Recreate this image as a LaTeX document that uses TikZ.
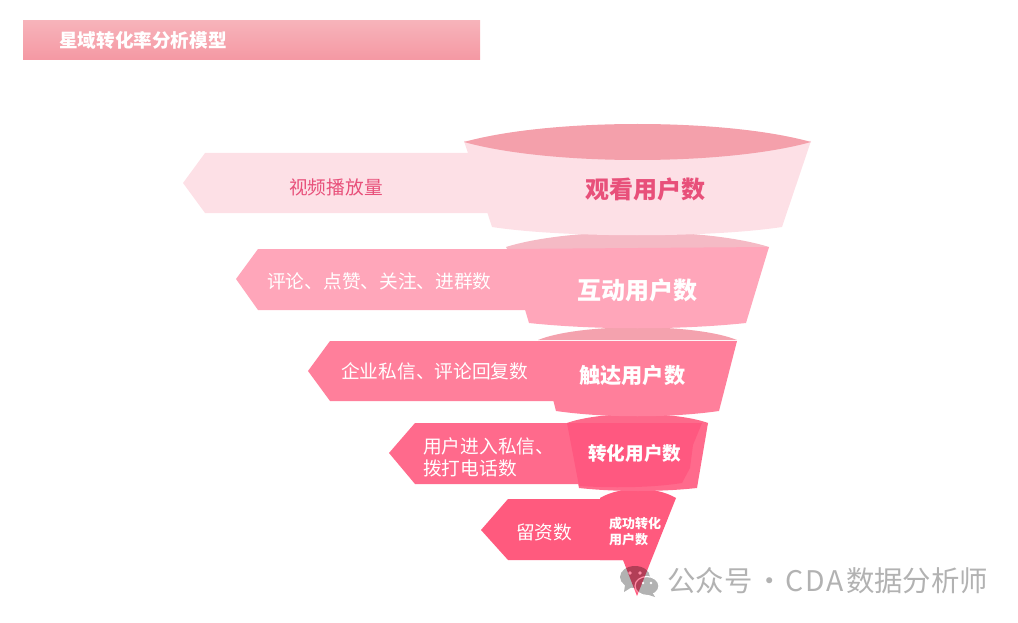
\documentclass[tikz,border=0pt]{standalone}
\usepackage{fontspec}
\usepackage{xcolor}
\usepackage{tikz}
\usetikzlibrary{positioning, calc}
\setmainfont{Noto Sans CJK SC}
\definecolor{tierA}{HTML}{FDE0E6}
\definecolor{tierB}{HTML}{FFA6BA}
\definecolor{tierC}{HTML}{FF7F9B}
\definecolor{tierD}{HTML}{FF6A8C}
\definecolor{tierE}{HTML}{FF5A7E}
\definecolor{tierDdark}{HTML}{FF5880}
\definecolor{capA}{HTML}{F4A0AB}
\definecolor{capB}{HTML}{F5BAC5}
\definecolor{capC}{HTML}{F4A2AE}
\definecolor{capD}{HTML}{FD6A8B}
\definecolor{capE}{HTML}{FF5A7E}
\definecolor{headline}{HTML}{E8507A}
\definecolor{bandtop}{HTML}{F7B3BA}
\definecolor{bandbottom}{HTML}{F598A3}
\tikzset{sidetext/.style={anchor=west, inner sep=0pt, text=white, font=\fontsize{18.7}{22}\selectfont, align=left}}
\tikzset{tiertext/.style={anchor=west, inner sep=0pt, text=white, font=\bfseries\fontsize{24}{28}\selectfont}}
\tikzset{marktext/.style={anchor=west, inner sep=0pt, text=black, text opacity=.3, font=\fontsize{28.4}{32}\selectfont}}
\begin{document}
\begin{tikzpicture}[x=1pt, y=-1pt]
      \useasboundingbox (0,0) rectangle (1018,623);

      % title bar
      \shade[top color=bandtop, bottom color=bandbottom] (23,21) rectangle (480,60);
      \node[tiertext, font=\bfseries\fontsize{18.6}{22}\selectfont] (title) at (59,40) {星域转化率分析模型};

      % side arrows
      \fill[tierE] (481,530) -- (508,499) -- (640,499) -- (640,560) -- (508,560) -- cycle;
      \fill[tierD] (389,453) -- (415,423) -- (590,423) -- (590,484) -- (415,484) -- cycle;
      \fill[tierC] (308,371) -- (330,341) -- (570,341) -- (570,401) -- (330,401) -- cycle;
      \fill[tierB] (236,279) -- (258,249) -- (540,249) -- (540,310) -- (258,310) -- cycle;
      \fill[tierA] (183,183) -- (205,153) -- (500,153) -- (500,213) -- (205,213) -- cycle;

      % bottom tier
      \fill[capE] (600,498) .. controls (620,486) and (656,486) .. (676,498) -- cycle;
      \fill[tierE] (600,498) -- (676,498) -- (637,596) -- (623,560) -- (600,560) -- cycle;

      % fourth tier
      \fill[capD] (567,423) .. controls (600,411) and (675,411) .. (708,423) -- cycle;
      \fill[tierD] (567,423) -- (708,423) -- (697,488) .. controls (660,492) and (616,492) .. (579,488) -- cycle;
      \fill[tierDdark] (567,423) -- (702,423) -- (693,445) -- (690,468) -- (682,483) .. controls (650,488) and (610,488) .. (579,486) -- cycle;

      % third tier
      \fill[capC] (538,340) .. controls (580,323) and (695,323) .. (737,340) -- cycle;
      \fill[tierC] (538,341) -- (737,341) -- (719,411) .. controls (670,418) and (605,418) .. (556,411) -- cycle;

      % second tier
      \fill[capB] (506,247) .. controls (570,227) and (705,227) .. (769,247) -- (768,249) -- (507,249) -- cycle;
      \fill[tierB] (507,249) -- (769,247) -- (746,323) .. controls (680,330) and (595,330) .. (529,323) -- cycle;

      % top tier
      \fill[tierA] (464,141) -- (811,141) -- (782,227) .. controls (710,238) and (564,238) .. (492,227) -- cycle;
      \fill[capA] (464,142) .. controls (550,118) and (725,118) .. (811,142) .. controls (725,166) and (550,166) .. (464,142) -- cycle;

      % labels of the side arrows
      \node[sidetext, text=headline] (views) at (289,187) {视频播放量};
      \node[sidetext] (actions) at (267,281) {评论、点赞、关注、进群数};
      \node[sidetext] (replies) at (341,371) {企业私信、评论回复数};
      \node[sidetext] (calls) at (423,457) {用户进入私信、\\拨打电话数};
      \node[sidetext] (leads) at (516,532) {留资数};

      % labels of the tiers
      \node[tiertext, text=headline] (watch) at (585,189) {观看用户数};
      \node[tiertext] (interact) at (577,290) {互动用户数};
      \node[tiertext, font=\bfseries\fontsize{21.2}{25}\selectfont] (reach) at (579,375) {触达用户数};
      \node[tiertext, font=\bfseries\fontsize{18.6}{22}\selectfont] (convert) at (588,453) {转化用户数};
      \node[tiertext, font=\bfseries\fontsize{13}{16}\selectfont, align=left] (done) at (609,532) {成功转化\\用户数};

      % watermark
      \begin{scope}[transparency group, opacity=.3]
        \fill[black] (635,577) ellipse (15 and 11);
        \fill[black] (625,585) -- (624,592) -- (632,587) -- cycle;
        \fill[black, draw=white, line width=1.2pt] (647,586) ellipse (12 and 9.5);
        \fill[black] (652,592) -- (655,597) -- (646,594) -- cycle;
        \fill[white] (630,573) circle (1.8);
        \fill[white] (640,573) circle (1.8);
        \fill[white] (643,583) circle (1.4);
        \fill[white] (651,583) circle (1.4);
      \end{scope}
      \node[marktext] (mark) at (667,581) {公众号 \kern-3pt·\kern1pt C\kern2pt D\kern2pt A\kern2pt 数据分析师};
    \end{tikzpicture}
\end{document}
